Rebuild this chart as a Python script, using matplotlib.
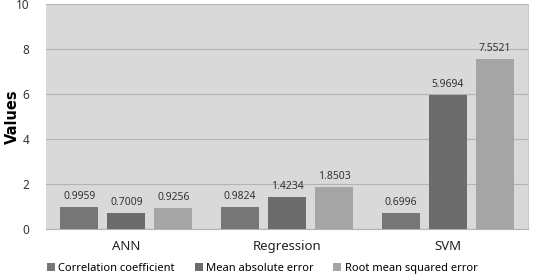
import matplotlib
matplotlib.use("Agg")
import matplotlib.pyplot as plt
import numpy as np

plt.rcParams['font.family'] = ['Noto Sans', 'DejaVu Sans']

categories = ["ANN", "Regression", "SVM"]
series_names = ["Correlation coefficient", "Mean absolute error", "Root mean squared error"]
corr = [0.9959, 0.9824, 0.6996]
mae = [0.7009, 1.4234, 5.9694]
rmse = [0.9256, 1.8503, 7.5521]
labels_corr = ["0.9959", "0.9824", "0.6996"]
labels_mae = ["0.7009", "1.4234", "5.9694"]
labels_rmse = ["0.9256", "1.8503", "7.5521"]
yticks = [0, 2, 4, 6, 8, 10]

colors = ["#767676", "#6c6c6c", "#a5a5a5"]

fig = plt.figure(figsize=(5.33, 2.78), dpi=100)
ax = fig.add_axes([0.0863, 0.176, 0.9043, 0.8096])
ax.set_facecolor("#d9d9d9")

x = np.arange(len(categories))
w = 0.236
off = 0.292
for i, (vals, labs) in enumerate([(corr, labels_corr), (mae, labels_mae), (rmse, labels_rmse)]):
    pos = x + (i - 1) * off
    ax.bar(pos, vals, width=w, color=colors[i], label=series_names[i], zorder=3)
    for p, v, l in zip(pos, vals, labs):
        ax.text(p, v + 0.22, l, ha="center", va="bottom", fontsize=7.5, color="#333333", zorder=4)

ax.set_xlim(-0.5, 2.5)
ax.set_ylim(0, 10)
ax.set_yticks(yticks)
ax.set_yticklabels([str(t) for t in yticks], fontsize=8.5, color="#333333")
ax.set_xticks(x)
ax.set_xticklabels(categories, fontsize=9.5, color="#222222")
ax.tick_params(axis="both", length=0)
ax.tick_params(axis="x", pad=8)
ax.tick_params(axis="y", pad=12)
ax.grid(axis="y", color="#b3b3b3", linewidth=0.8, zorder=1)
for s in ["top", "left"]:
    ax.spines[s].set_visible(False)
ax.spines["right"].set_color("#c8c8c8")
ax.spines["bottom"].set_color("#b3b3b3")
fig.text(0.024, 0.58, "Values", rotation=90, ha="center", va="center",
         fontsize=10.5, fontweight="bold", family=["DejaVu Sans"])

leg = fig.legend(loc="lower center", bbox_to_anchor=(0.492, -0.02), ncol=3, frameon=False,
                 fontsize=8, handlelength=0.7, handleheight=0.7, handletextpad=0.3,
                 columnspacing=1.8)

fig.savefig("out.png", dpi=100)
